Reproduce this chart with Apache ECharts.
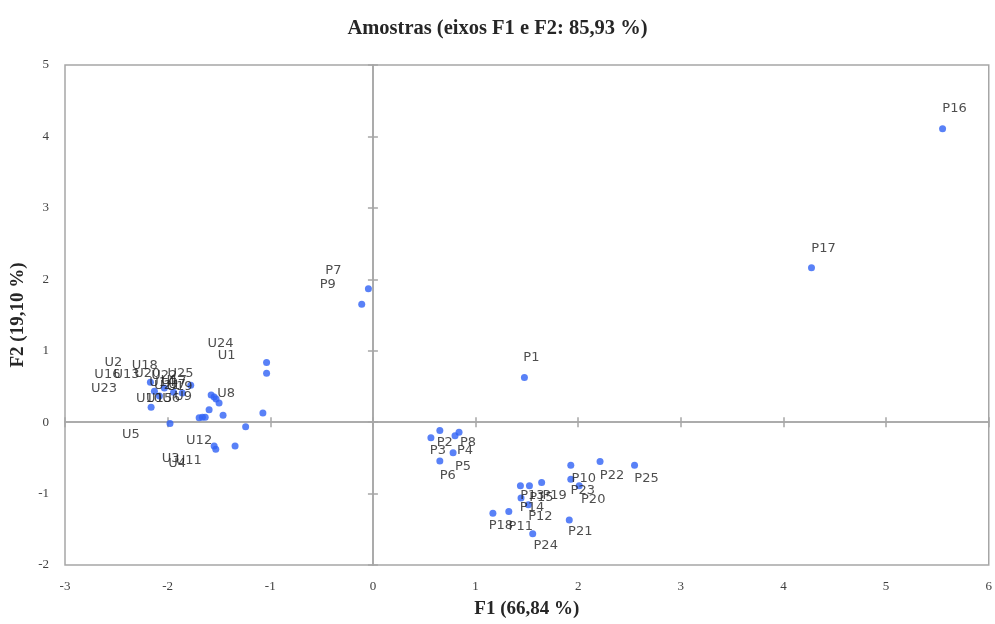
<!DOCTYPE html>
<html>
<head>
<meta charset="utf-8">
<script src="https://cdn.jsdelivr.net/npm/echarts@6/dist/echarts.min.js"></script>
<style>html,body{margin:0;padding:0;background:#fff;overflow:hidden}#c{width:995px;height:624px}</style>
</head>
<body>
<div id="c"></div>
<script>
// ---- data ----
const uNames = ['U24','U1','U2','U18','U16','U13','U20','U22','U23','U25','U5','U8','U15','U6','U9','U10','U7','U21','U19','U14','U17','U3','U12','U11','U4'];
const uX = [-1.036,-1.036,-2.168,-1.775,-2.129,-1.942,-2.032,-1.857,-2.161,-2.080,-1.977,-1.576,-1.547,-1.528,-1.499,-1.596,-1.460,-1.693,-1.661,-1.634,-1.072,-1.240,-1.547,-1.531,-1.343];
const uY = [0.835,0.686,0.557,0.515,0.431,0.417,0.477,0.408,0.209,0.366,-0.019,0.380,0.352,0.324,0.268,0.175,0.097,0.060,0.070,0.070,0.129,-0.065,-0.334,-0.381,-0.334];

const pNames = ['P1','P16','P17','P7','P9','P3','P2','P4','P8','P5','P6','P10','P22','P25','P23','P20','P19','P13','P15','P14','P12','P18','P11','P24','P21'];
const pX = [1.476,5.550,4.273,-0.044,-0.109,0.565,0.652,0.800,0.839,0.781,0.652,1.928,2.213,2.549,1.928,2.010,1.644,1.437,1.525,1.443,1.515,1.169,1.324,1.557,1.913];
const pY = [0.626,4.109,2.161,1.869,1.650,-0.218,-0.117,-0.191,-0.142,-0.427,-0.543,-0.604,-0.552,-0.604,-0.799,-0.891,-0.845,-0.891,-0.891,-1.063,-1.155,-1.276,-1.252,-1.564,-1.369];

const xTicks = [-3,-2,-1,0,1,2,3,4,5,6];
const yTicks = [-2,-1,0,1,2,3,4,5];

const titleText = 'Amostras (eixos F1 e F2: 85,93 %)';
const xTitle = 'F1 (66,84 %)';
const yTitle = 'F2 (19,10 %)';

// label placement (pixel offsets of label centre from its point)
const labelOffset = {
  U24:[-46,-19], U1:[-40,-18], U2:[-37,-20], U18:[-46,-20], U16:[-47,-17], U13:[-47,-18],
  U20:[-17,-14], U22:[-18,-17], U23:[-47,-19], U25:[21,-22], U5:[-39,11], U8:[15,-1],
  U15:[-55,2], U6:[-45,0], U9:[-36,-6], U10:[-60,-11], U7:[-46,-31], U21:[-32,-32],
  U19:[-23,-31], U14:[-43,-35], U17:[-89,-32], U3:[-75,32], U12:[-15,-5], U11:[-27,11], U4:[-58,18],
  P1:[7,-20], P16:[12,-20], P17:[12,-19], P7:[-35,-18], P9:[-34,-20],
  P3:[7,13], P2:[5,12], P4:[10,15], P8:[9,10], P5:[10,14], P6:[8,15],
  P10:[13,13], P22:[12,14], P25:[12,13], P23:[12,11], P20:[14,14], P19:[13,13],
  P13:[12,10], P15:[12,12], P14:[11,10], P12:[12,12], P18:[8,12], P11:[12,15], P24:[13,12], P21:[11,12]
};

// ---- build ----
const SYM = 7;
function lbl(n){ const o = labelOffset[n]; return {position:[SYM/2 + o[0], SYM/2 + o[1]]}; }
const pts = [];
uNames.forEach((n,i)=>pts.push({name:n, value:[uX[i],uY[i]], label:lbl(n)}));
pNames.forEach((n,i)=>pts.push({name:n, value:[pX[i],pY[i]], label:lbl(n)}));

const lineCol = '#a6a6a6';
const tickFont = {fontFamily:'Liberation Serif', fontSize:13, color:'#404040'};
const nameFont = {fontFamily:'Liberation Serif', fontSize:19, fontWeight:'bold', color:'#262626'};

const xmin = xTicks[0], xmax = xTicks[xTicks.length-1];
const ymin = yTicks[0], ymax = yTicks[yTicks.length-1];

function zeroAxis(inside){
  return {
    type:'value', min:null, max:null, interval:1, position:'bottom',
    axisLine:{show:true, onZero:true, lineStyle:{color:lineCol, width:1.5}},
    axisTick:{show:true, inside:inside, length:5, lineStyle:{color:lineCol, width:1.5}},
    axisLabel:{show:false}, splitLine:{show:false}
  };
}
const xz1 = zeroAxis(true), xz2 = zeroAxis(false);
[xz1,xz2].forEach(a=>{a.min=xmin;a.max=xmax;});
const yz1 = zeroAxis(true), yz2 = zeroAxis(false);
[yz1,yz2].forEach(a=>{a.min=ymin;a.max=ymax;a.position='left';});

const chart = echarts.init(document.getElementById('c'), null, {renderer:'canvas', width:995, height:624});
chart.setOption({
  animation:false,
  backgroundColor:'#fff',
  title:{text:titleText, left:'center', top:13,
    textStyle:{fontFamily:'Liberation Serif', fontSize:20.5, fontWeight:'bold', color:'#262626'}},
  grid:{left:65, top:65, width:928, height:503, show:true, borderColor:lineCol, borderWidth:1.5},
  xAxis:[
    {type:'value', min:xmin, max:xmax, interval:1, position:'bottom',
     axisLine:{show:false, onZero:false}, axisTick:{show:false}, splitLine:{show:false},
     axisLabel:Object.assign({margin:15}, tickFont),
     name:xTitle, nameLocation:'middle', nameGap:35, nameTextStyle:nameFont},
    xz1, xz2
  ],
  yAxis:[
    {type:'value', min:ymin, max:ymax, interval:1, position:'left',
     axisLine:{show:false, onZero:false}, axisTick:{show:false}, splitLine:{show:false},
     axisLabel:Object.assign({margin:16}, tickFont),
     name:yTitle, nameLocation:'middle', nameGap:36, nameRotate:90, nameTextStyle:nameFont},
    yz1, yz2
  ],
  series:[{
    type:'scatter', xAxisIndex:0, yAxisIndex:0,
    symbol:'circle', symbolSize:SYM,
    itemStyle:{color:'#2f62f5'},
    label:{show:true, formatter:'{b}', fontFamily:'DejaVu Sans', fontSize:13, color:'#222', align:'center', verticalAlign:'middle'},
    labelLayout:{hideOverlap:false},
    emphasis:{disabled:true},
    data:pts, z:5
  }]
});
</script>
</body>
</html>
